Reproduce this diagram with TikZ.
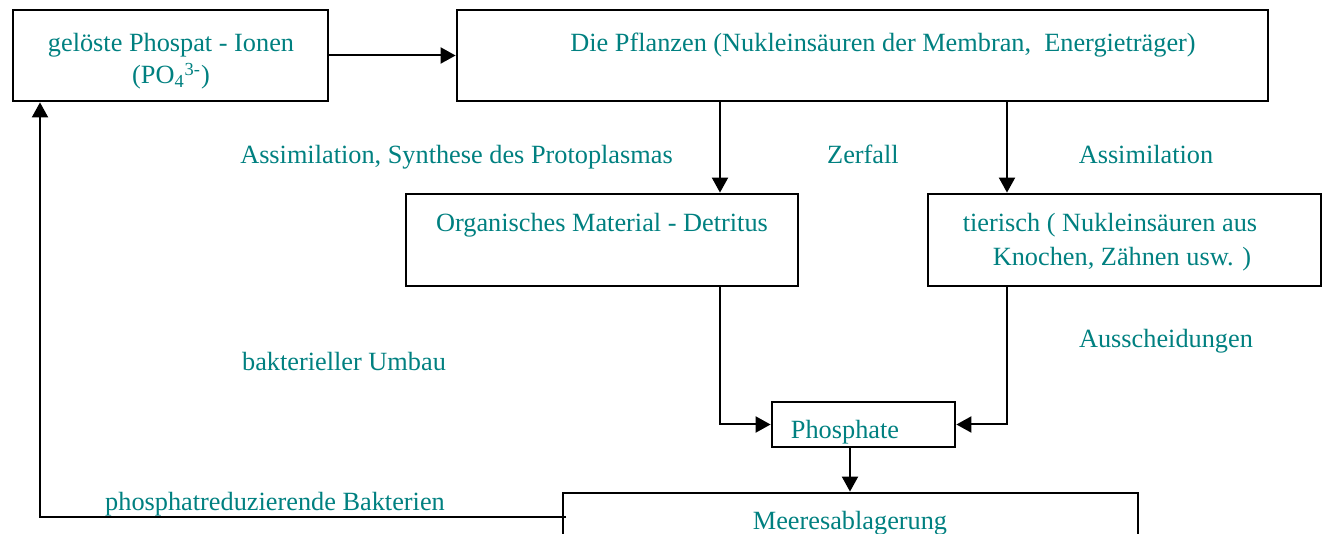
\documentclass[tikz,border=0pt]{standalone}
\usepackage{fontspec}
\setmainfont{Liberation Serif}
\usetikzlibrary{arrows.meta}
\definecolor{txt}{RGB}{0,128,128}
\tikzset{
  box/.style={draw=black, line width=1.4pt, rectangle, inner sep=0pt},
  lbl/.style={text=txt, anchor=base, inner sep=0pt, font=\fontsize{13.15}{16.5}\selectfont},
  conn/.style={draw=black, line width=1pt},
  arr/.style={conn, -{Triangle[length=7.5pt,width=8pt]}}
}
\begin{document}
\begin{tikzpicture}[x=0.5pt,y=-0.5pt]
\useasboundingbox (0,0) rectangle (1324,534);
\clip (0,0) rectangle (1324,534);
% boxes
\node[box, minimum width=157.5pt, minimum height=45.5pt] (A) at (170.5,55.5) {};
\node[box, minimum width=405.5pt, minimum height=45.5pt] (B) at (862.5,55.5) {};
\node[box, minimum width=196pt, minimum height=46pt] (C) at (602,240) {};
\node[box, minimum width=196.5pt, minimum height=46pt] (D) at (1124.5,240) {};
\node[box, minimum width=91.5pt, minimum height=22.5pt] (P) at (863.5,424.5) {};
\node[box, minimum width=287.5pt, minimum height=40pt] (M) at (850.5,533) {};
% box texts
\node[lbl] (tA1) at (171,52) {gelöste Phospat - Ionen};
\node[lbl] (tA2) at (171,84) {(PO\textsubscript{4}\textsuperscript{3-})};
\node[lbl] (tB) at (883,52) {Die Pflanzen (Nukleinsäuren der Membran,\ \ Energieträger)};
\node[lbl] (tC) at (602,232) {Organisches Material - Detritus};
\node[lbl] (tD1) at (1110,232) {tierisch ( Nukleinsäuren aus};
\node[lbl] (tD2) at (1122,266) {Knochen, Zähnen usw. )};
\node[lbl] (tP) at (845,439) {Phosphate};
\node[lbl] (tM) at (850,530) {Meeresablagerung};
% edge labels
\node[lbl] (l1) at (456.5,164) {Assimilation, Synthese des Protoplasmas};
\node[lbl] (l2) at (863,164) {Zerfall};
\node[lbl] (l3) at (1146,164) {Assimilation};
\node[lbl] (l4) at (344,371) {bakterieller Umbau};
\node[lbl] (l5) at (1166,348) {Ausscheidungen};
\node[lbl] (l6) at (275,510) {phosphatreduzierende Bakterien};
% helper coordinates
\coordinate (c1) at (720,194);
\coordinate (c2) at (1007,194);
\coordinate (c3) at (850,493);
\coordinate (c4) at (40,517);
\coordinate (c5) at (566,517);
% connectors
\draw[arr] (A.east) -- (B.west);
\draw[arr] (B.south -| c1) -- (C.north -| c1);
\draw[arr] (B.south -| c2) -- (D.north -| c2);
\draw[arr] (C.south -| c1) |- (P.west);
\draw[arr] (D.south -| c2) |- (P.east);
\draw[arr] (P.south -| c3) -- (M.north -| c3);
\draw[arr] (c5) -- (c4) -- (A.south -| c4);
\end{tikzpicture}
\end{document}
